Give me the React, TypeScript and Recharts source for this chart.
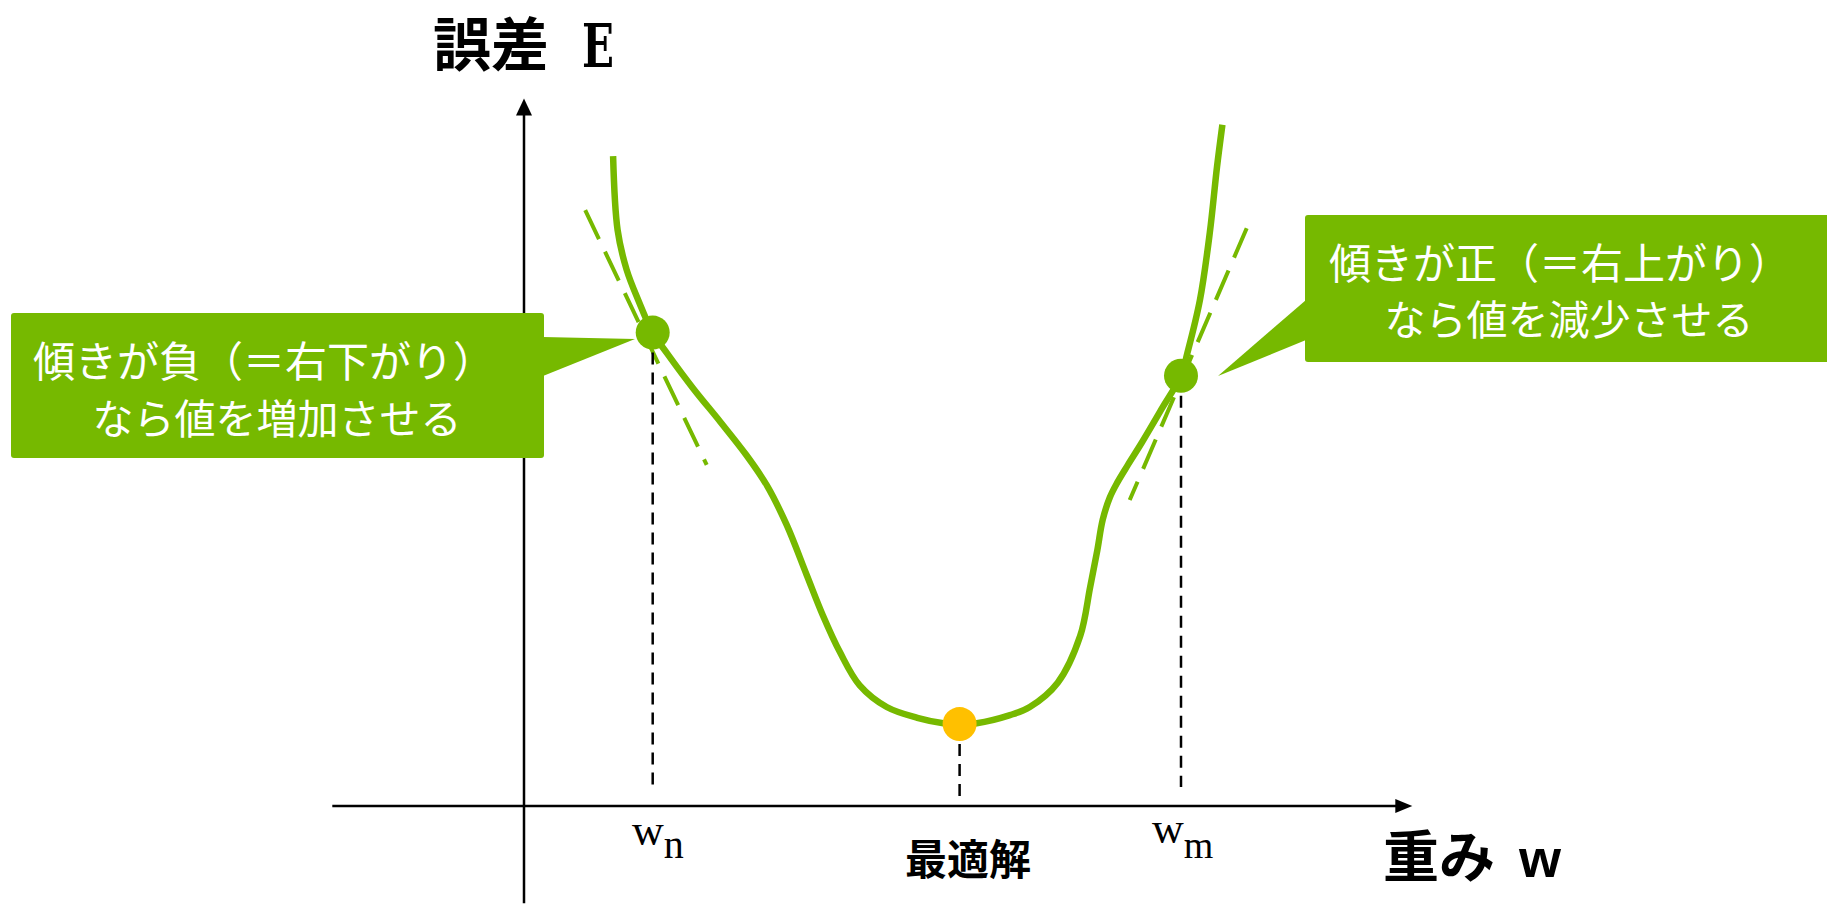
import React from "react";
import { ComposedChart, Line, XAxis, YAxis, ReferenceLine, ReferenceDot } from "recharts";

const WIDTH = 1827;
const HEIGHT = 904;
// 1 unit = 90px on both axes, origin where the two arrows cross
const UNIT = 90;
const ORIGIN_X = 524;
const ORIGIN_Y = 806;

const GREEN = "#76B900";
const YELLOW = "#FFC000";
const JP_FONT = "'Noto Sans CJK JP', 'Noto Sans', sans-serif";
const SERIF = "'Liberation Serif', 'DejaVu Serif', serif";

// error curve E(w)
const curveW = [
  0.99, 1.04, 1.14, 1.27, 1.43, 1.59, 1.88, 2.18, 2.47, 2.7, 2.92, 3.14, 3.32, 3.51, 3.73, 4.03, 4.37, 4.66,
  4.84, 5.03, 5.4, 5.62, 5.93, 6.18, 6.29, 6.37, 6.43, 6.51, 6.59, 6.71, 6.86, 7.09, 7.3, 7.37, 7.51,
  7.62, 7.7, 7.76,
];
const curveE = [
  7.22, 6.4, 5.96, 5.62, 5.26, 5.03, 4.64, 4.27, 3.9, 3.56, 3.12, 2.57, 2.12, 1.71, 1.34, 1.1, 0.98, 0.92,
  0.91, 0.92, 1.01, 1.1, 1.37, 1.89, 2.43, 2.84, 3.18, 3.43, 3.59, 3.79, 4.03, 4.42, 4.78, 5.03, 5.62,
  6.37, 7.1, 7.57,
];

const pointN = { w: 1.43, E: 5.26 };
const pointM = { w: 7.3, E: 4.78 };
const pointMin = { w: 4.84, E: 0.91 };

const tangentLeft = [
  { w: 0.68, E: 6.62 },
  { w: 2.03, E: 3.79 },
];
const tangentRight = [
  { w: 6.73, E: 3.4 },
  { w: 8.03, E: 6.42 },
];

const dropBottom = 0.21;
const dropBottomMin = 0.04;

const xAxisRange = [-2.13, 9.87];
const yAxisRange = [-1.08, 7.86];

const leftNote = ["傾きが負（＝右下がり）", "なら値を増加させる"];
const rightNote = ["傾きが正（＝右上がり）", "なら値を減少させる"];

const curveData = curveW.map((w, i) => ({ w, E: curveE[i] }));

// centripetal catmull-rom, so the hand-read points join without corners
const smoothCurve = (context: any) => {
  let pts: Array<[number, number]> = [];
  return {
    areaStart() {},
    areaEnd() {},
    lineStart() {
      pts = [];
    },
    lineEnd() {
      if (!pts.length) return;
      context.moveTo(pts[0][0], pts[0][1]);
      for (let i = 0; i < pts.length - 1; i++) {
        const p0 = pts[Math.max(i - 1, 0)];
        const p1 = pts[i];
        const p2 = pts[i + 1];
        const p3 = pts[Math.min(i + 2, pts.length - 1)];
        const l01 = Math.hypot(p1[0] - p0[0], p1[1] - p0[1]);
        const l12 = Math.hypot(p2[0] - p1[0], p2[1] - p1[1]);
        const l23 = Math.hypot(p3[0] - p2[0], p3[1] - p2[1]);
        const a01 = Math.sqrt(l01);
        const a12 = Math.sqrt(l12);
        const a23 = Math.sqrt(l23);
        let c1x = p1[0];
        let c1y = p1[1];
        let c2x = p2[0];
        let c2y = p2[1];
        if (a01 > 1e-6) {
          const a = 2 * l01 + 3 * a01 * a12 + l12;
          const n = 3 * a01 * (a01 + a12);
          c1x = (p1[0] * a - p0[0] * l12 + p2[0] * l01) / n;
          c1y = (p1[1] * a - p0[1] * l12 + p2[1] * l01) / n;
        }
        if (a23 > 1e-6) {
          const b = 2 * l23 + 3 * a23 * a12 + l12;
          const m = 3 * a23 * (a23 + a12);
          c2x = (p2[0] * b + p1[0] * l23 - p3[0] * l12) / m;
          c2y = (p2[1] * b + p1[1] * l23 - p3[1] * l12) / m;
        }
        context.bezierCurveTo(c1x, c1y, c2x, c2y, p2[0], p2[1]);
      }
    },
    point(x: number, y: number) {
      pts.push([+x, +y]);
    },
  };
};

const UpArrow = ({ cx, cy }: any) => (
  <polygon points={`${cx},${cy} ${cx - 8},${cy + 17} ${cx + 8},${cy + 17}`} fill="#000" />
);
const RightArrow = ({ cx, cy }: any) => (
  <polygon points={`${cx},${cy} ${cx - 17},${cy - 7} ${cx - 17},${cy + 7}`} fill="#000" />
);

export default function App() {
  const xDomain = [-ORIGIN_X / UNIT, (WIDTH - ORIGIN_X) / UNIT];
  const yDomain = [-(HEIGHT - ORIGIN_Y) / UNIT, ORIGIN_Y / UNIT];

  return (
    <div style={{ position: "absolute", left: 0, top: 0, width: WIDTH, height: HEIGHT, background: "#fff" }}>
      <ComposedChart width={WIDTH} height={HEIGHT} data={curveData} margin={{ top: 0, right: 0, bottom: 0, left: 0 }}>
        <XAxis dataKey="w" type="number" domain={xDomain} allowDataOverflow hide />
        <YAxis type="number" domain={yDomain} allowDataOverflow hide />

        {/* axes */}
        <ReferenceLine
          segment={[{ x: xAxisRange[0], y: 0 }, { x: xAxisRange[1] - 0.1, y: 0 }]}
          stroke="#000"
          strokeWidth={2.5}
          ifOverflow="visible"
        />
        <ReferenceLine
          segment={[{ x: 0, y: yAxisRange[0] }, { x: 0, y: yAxisRange[1] - 0.1 }]}
          stroke="#000"
          strokeWidth={2.5}
          ifOverflow="visible"
        />
        <ReferenceDot x={xAxisRange[1]} y={0} r={1} shape={RightArrow} ifOverflow="visible" />
        <ReferenceDot x={0} y={yAxisRange[1]} r={1} shape={UpArrow} ifOverflow="visible" />

        {/* tangents */}
        <ReferenceLine
          segment={[{ x: tangentLeft[0].w, y: tangentLeft[0].E }, { x: tangentLeft[1].w, y: tangentLeft[1].E }]}
          stroke={GREEN}
          strokeWidth={4}
          strokeDasharray="32 14"
        />
        <ReferenceLine
          segment={[{ x: tangentRight[1].w, y: tangentRight[1].E }, { x: tangentRight[0].w, y: tangentRight[0].E }]}
          stroke={GREEN}
          strokeWidth={4}
          strokeDasharray="32 14"
        />

        {/* drop lines */}
        <ReferenceLine
          segment={[{ x: pointN.w, y: pointN.E }, { x: pointN.w, y: dropBottom }]}
          stroke="#000"
          strokeWidth={2.5}
          strokeDasharray="12 8"
        />
        <ReferenceLine
          segment={[{ x: pointM.w, y: pointM.E }, { x: pointM.w, y: dropBottom }]}
          stroke="#000"
          strokeWidth={2.5}
          strokeDasharray="12 8"
        />
        <ReferenceLine
          segment={[{ x: pointMin.w, y: pointMin.E }, { x: pointMin.w, y: dropBottomMin }]}
          stroke="#000"
          strokeWidth={2.5}
          strokeDasharray="12 8"
        />

        <Line
          type={smoothCurve as any}
          dataKey="E"
          stroke={GREEN}
          strokeWidth={6.5}
          dot={false}
          activeDot={false}
          isAnimationActive={false}
        />

        <ReferenceDot x={pointN.w} y={pointN.E} r={17} fill={GREEN} stroke="none" />
        <ReferenceDot x={pointM.w} y={pointM.E} r={17} fill={GREEN} stroke="none" />
        <ReferenceDot x={pointMin.w} y={pointMin.E} r={17} fill={YELLOW} stroke="none" />
      </ComposedChart>

      <svg
        width={WIDTH}
        height={HEIGHT}
        style={{ position: "absolute", left: 0, top: 0, pointerEvents: "none" }}
      >
        {/* axis titles */}
        <text x={433} y={66} fontFamily={JP_FONT} fontWeight={700} fontSize={58}>誤差</text>
        <text transform="translate(582,67) scale(0.7,1)" fontFamily="'DejaVu Serif', serif" fontWeight={700} fontSize={60}>E</text>
        <text x={1383} y={877} fontFamily={JP_FONT} fontWeight={700} fontSize={56}>
          重み<tspan dx={24} fontFamily="'Liberation Sans', Arial, sans-serif" fontSize={54}>w</tspan>
        </text>
        <text x={968} y={875} fontFamily={JP_FONT} fontWeight={700} fontSize={42} textAnchor="middle">最適解</text>

        <text x={632} y={845} fontFamily={SERIF} fontSize={44}>
          w<tspan dy={13} fontSize={40}>n</tspan>
        </text>
        <text x={1152} y={843} fontFamily={SERIF} fontSize={44}>
          w<tspan dy={15} fontSize={38}>m</tspan>
        </text>

        {/* left callout */}
        <rect x={11} y={313} width={533} height={145} rx={3} fill={GREEN} />
        <polygon points="543,337 635,339 543,376" fill={GREEN} />
        <text x={264} y={377} fontFamily={JP_FONT} fontSize={42} fill="#fff" textAnchor="middle">{leftNote[0]}</text>
        <text x={277} y={434} fontFamily={JP_FONT} fontSize={41} fill="#fff" textAnchor="middle">{leftNote[1]}</text>

        {/* right callout */}
        <rect x={1305} y={215} width={530} height={147} rx={3} fill={GREEN} />
        <polygon points="1306,300 1218,376 1306,340" fill={GREEN} />
        <text x={1560} y={279} fontFamily={JP_FONT} fontSize={42} fill="#fff" textAnchor="middle">{rightNote[0]}</text>
        <text x={1569} y={335} fontFamily={JP_FONT} fontSize={41} fill="#fff" textAnchor="middle">{rightNote[1]}</text>
      </svg>
    </div>
  );
}
